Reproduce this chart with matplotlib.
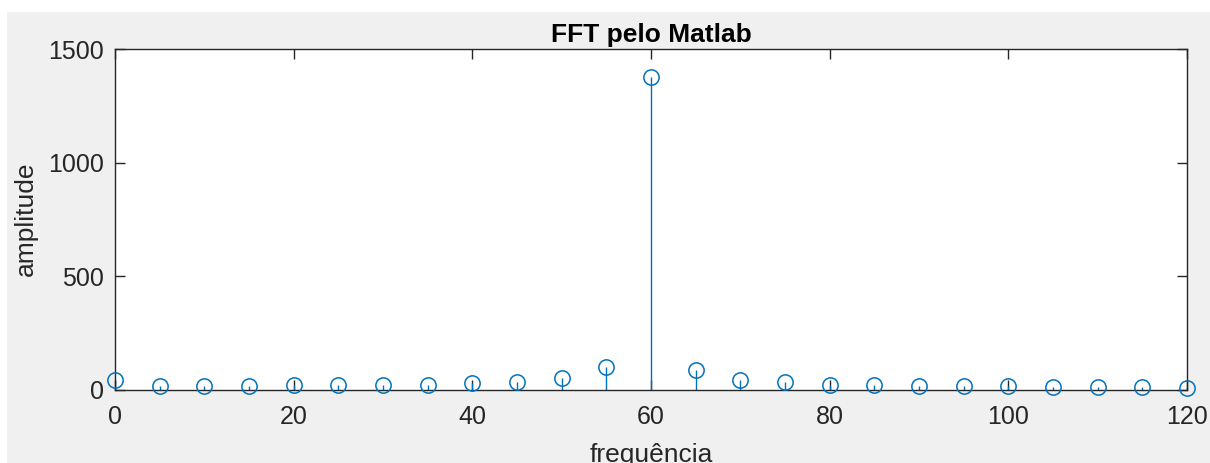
import matplotlib
matplotlib.use("Agg")
import matplotlib.pyplot as plt
from matplotlib.patches import Rectangle

# ------------------------------------------------------------------------------------------
# spectrum amplitudes, one every 5 Hz
freq = [0, 5, 10, 15, 20, 25, 30, 35, 40, 45, 50, 55, 60,
        65, 70, 75, 80, 85, 90, 95, 100, 105, 110, 115, 120]
amp = [43, 16, 16, 16, 18, 18, 22, 22, 28, 35, 51, 101, 1375,
       87, 43, 31, 22, 19, 16, 16, 14, 12, 12, 12, 7]

xticks = [0, 20, 40, 60, 80, 100, 120]
yticks = [0, 500, 1000, 1500]

# ------------------------------------------------------------------------------------------
# matlab-like look
matlab_blue = "#0072BD"
axis_grey = "#262626"
fig_grey = "#F0F0F0"

plt.rcParams.update({
    "font.family": ["Liberation Sans", "DejaVu Sans"],
    "font.size": 18,
})

fig = plt.figure(figsize=(12.10, 4.63), dpi=100, facecolor="white")
fig.patches.append(Rectangle((7 / 1210, 0), 1, 1 - 12 / 463, transform=fig.transFigure,
                             facecolor=fig_grey, edgecolor="none", zorder=-10))

ax = fig.add_axes([115 / 1210, 1 - 389.5 / 463, 1072 / 1210, 340.5 / 463])
ax.set_facecolor("white")

markerline, stemlines, baseline = ax.stem(freq, amp, linefmt="-", markerfmt="o", basefmt=" ")
plt.setp(stemlines, color=matlab_blue, linewidth=1.0)
plt.setp(markerline, color=matlab_blue, markerfacecolor="none", markeredgecolor=matlab_blue,
         markersize=11, markeredgewidth=1.1, clip_on=False, zorder=5)

ax.set_xlim(0, 120)
ax.set_ylim(0, 1500)
ax.set_xticks(xticks)
ax.set_yticks(yticks)

for spine in ax.spines.values():
    spine.set_color(axis_grey)
    spine.set_linewidth(1.0)

ax.tick_params(direction="in", length=7, width=1.0, color=axis_grey, labelcolor=axis_grey,
               top=True, right=True, labelsize=18)
ax.tick_params(axis="x", pad=11)
ax.tick_params(axis="y", pad=8)

ax.set_title("FFT pelo Matlab", fontweight="bold", fontsize=19, pad=5, color="black")
# the x label runs past the bottom edge of the window, as in the matlab figure export
ax.set_xlabel("frequência", fontsize=19, color=axis_grey, labelpad=10)
ax.set_ylabel("amplitude", fontsize=19, color=axis_grey, labelpad=7)

fig.savefig("out.png", dpi=100, facecolor=fig.get_facecolor())
